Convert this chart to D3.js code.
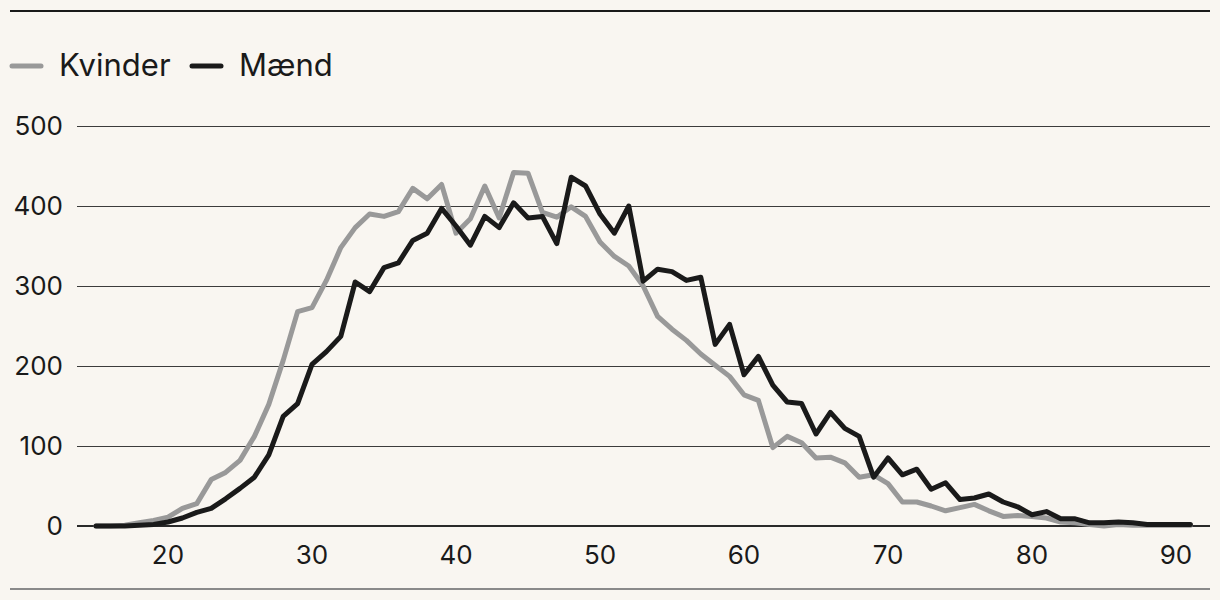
<!DOCTYPE html>
<html>
<head>
<meta charset="utf-8">
<script src="https://cdn.jsdelivr.net/npm/d3@7"></script>
<style>
  html, body { margin: 0; padding: 0; background: #f9f6f1; }
  svg { display: block; }
  text { font-family: Inter, "Liberation Sans", sans-serif; fill: #1a1a1a; }
</style>
</head>
<body>
<svg id="chart" width="1220" height="600"></svg>
<script>
const ages = [15,16,17,18,19,20,21,22,23,24,25,26,27,28,29,30,31,32,33,34,35,36,37,38,39,40,41,42,43,44,45,46,47,48,49,50,51,52,53,54,55,56,57,58,59,60,61,62,63,64,65,66,67,68,69,70,71,72,73,74,75,76,77,78,79,80,81,82,83,84,85,86,87,88,89,90,91];
const kvinder = [0,0,1,4,7,11,22,28,58,67,82,112,152,207,268,273,307,348,373,390,387,393,422,409,427,366,384,425,385,442,441,392,386,399,387,355,337,325,300,262,246,232,215,201,187,164,157,98,112,104,85,86,79,61,64,53,30,30,25,19,23,27,19,12,13,12,10,5,4,2,0,2,1,1,1,1,1];
const maend = [0,0,0,1,2,5,10,17,22,34,47,61,89,137,153,202,218,237,305,293,323,329,357,366,397,375,351,387,373,404,385,387,353,436,425,390,366,400,306,321,318,307,311,227,252,189,212,176,155,153,115,142,122,112,61,85,64,71,46,54,33,35,40,30,24,14,18,9,9,4,4,5,4,2,2,2,2];
const xTicks = [20,30,40,50,60,70,80,90];
const yTicks = [0,100,200,300,400,500];
const seriesNames = ["Kvinder", "Mænd"];
const seriesColors = ["#999999", "#1a1a1a"];

const svg = d3.select("#chart");

const x = d3.scaleLinear().domain([15, 91]).range([96, 1190.4]);
const y = d3.scaleLinear().domain([0, 500]).range([526, 126]);

// top and bottom rules
svg.append("line").attr("x1", 10).attr("x2", 1210).attr("y1", 11).attr("y2", 11)
  .attr("stroke", "#1a1a1a").attr("stroke-width", 2);
svg.append("line").attr("x1", 10).attr("x2", 1210).attr("y1", 589).attr("y2", 589)
  .attr("stroke", "#8a8a8a").attr("stroke-width", 2);

// gridlines
const grid = svg.append("g");
grid.selectAll("line").data(yTicks).join("line")
  .attr("x1", 77).attr("x2", 1210)
  .attr("y1", d => d === 0 ? y(d) : y(d) + 0.5).attr("y2", d => d === 0 ? y(d) : y(d) + 0.5)
  .attr("stroke", d => d === 0 ? "#2a2a2a" : "#3c3c3c")
  .attr("stroke-width", d => d === 0 ? 2 : 1);

// y labels
svg.append("g").selectAll("text").data(yTicks).join("text")
  .attr("x", 63).attr("y", d => y(d))
  .attr("dy", "0.36em")
  .attr("text-anchor", "end")
  .attr("font-size", 26)
  .text(d => d);

// x labels
svg.append("g").selectAll("text").data(xTicks).join("text")
  .attr("x", d => x(d)).attr("y", 564)
  .attr("text-anchor", "middle")
  .attr("font-size", 26)
  .text(d => d);

// lines
const line = d3.line().x((d, i) => x(ages[i])).y(d => y(d));
[kvinder, maend].forEach((s, k) => {
  svg.append("path").datum(s)
    .attr("d", line)
    .attr("fill", "none")
    .attr("stroke", seriesColors[k])
    .attr("stroke-width", 5)
    .attr("stroke-linejoin", "round")
    .attr("stroke-linecap", "round");
});

// legend
const legendX = [12, 192];
const leg = svg.append("g");
seriesNames.forEach((n, k) => {
  leg.append("line").attr("x1", legendX[k]).attr("x2", legendX[k] + 29)
    .attr("y1", 66).attr("y2", 66)
    .attr("stroke", seriesColors[k]).attr("stroke-width", 5)
    .attr("stroke-linecap", "round");
  leg.append("text").attr("x", legendX[k] + 47).attr("y", 76)
    .attr("font-size", 31).text(n);
});
</script>
</body>
</html>
